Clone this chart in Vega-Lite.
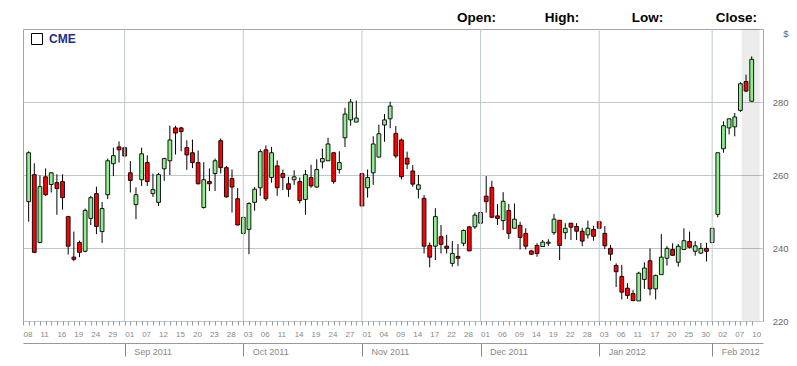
{
  "$schema": "https://vega.github.io/schema/vega-lite/v6.json",
  "width": 740,
  "height": 292,
  "autosize": {"type": "none"},
  "padding": {"left": 23, "top": 29, "right": 34, "bottom": 45},
  "background": "white",
  "title": {
    "text": "Open:\u00a0\u00a0\u00a0\u00a0\u00a0\u00a0\u00a0\u00a0\u00a0\u00a0\u00a0\u00a0\u00a0High:\u00a0\u00a0\u00a0\u00a0\u00a0\u00a0\u00a0\u00a0\u00a0\u00a0\u00a0\u00a0\u00a0\u00a0Low:\u00a0\u00a0\u00a0\u00a0\u00a0\u00a0\u00a0\u00a0\u00a0\u00a0\u00a0\u00a0\u00a0\u00a0Close:",
    "anchor": "end",
    "frame": "group",
    "orient": "top",
    "offset": 6.5,
    "baseline": "alphabetic",
    "dx": -6,
    "dy": 14,
    "font": "Liberation Sans",
    "fontSize": 13.5,
    "fontWeight": "bold",
    "color": "#000000"
  },
  "config": {
    "view": {"stroke": "#a6a6a6", "strokeWidth": 1}
  },
  "data": {
    "values": [
      {"date": "2011-08-09", "open": 252.7, "high": 266.5, "low": 247.2, "close": 266.1},
      {"date": "2011-08-10", "open": 260.1, "high": 263.2, "low": 238.6, "close": 238.8},
      {"date": "2011-08-11", "open": 241.5, "high": 259.9, "low": 241.3, "close": 256.8},
      {"date": "2011-08-12", "open": 259.5, "high": 261.8, "low": 254.3, "close": 254.6},
      {"date": "2011-08-15", "open": 257.4, "high": 260.8, "low": 255.2, "close": 260.6},
      {"date": "2011-08-16", "open": 257.9, "high": 260.2, "low": 249.1, "close": 256.3},
      {"date": "2011-08-17", "open": 258.2, "high": 260.2, "low": 250.5, "close": 253.8},
      {"date": "2011-08-18", "open": 248.6, "high": 248.8, "low": 238.2, "close": 240.5},
      {"date": "2011-08-19", "open": 237.5, "high": 244.5, "low": 236.4, "close": 236.9},
      {"date": "2011-08-22", "open": 241.5, "high": 242.0, "low": 237.5, "close": 238.8},
      {"date": "2011-08-23", "open": 239.1, "high": 250.8, "low": 238.8, "close": 250.3},
      {"date": "2011-08-24", "open": 248.1, "high": 254.3, "low": 246.3, "close": 253.8},
      {"date": "2011-08-25", "open": 254.9, "high": 256.8, "low": 243.8, "close": 245.9},
      {"date": "2011-08-26", "open": 244.5, "high": 252.6, "low": 241.4, "close": 250.8},
      {"date": "2011-08-29", "open": 254.6, "high": 264.5, "low": 253.4, "close": 263.9},
      {"date": "2011-08-30", "open": 263.1, "high": 267.5, "low": 259.7, "close": 265.3},
      {"date": "2011-08-31", "open": 267.7, "high": 269.2, "low": 263.4, "close": 266.9},
      {"date": "2011-09-01", "open": 267.5, "high": 267.6, "low": 265.0, "close": 265.2},
      {"date": "2011-09-02", "open": 260.6, "high": 263.8, "low": 255.2, "close": 258.5},
      {"date": "2011-09-06", "open": 251.9, "high": 256.6, "low": 247.9, "close": 254.6},
      {"date": "2011-09-07", "open": 258.7, "high": 267.5, "low": 257.0, "close": 265.8},
      {"date": "2011-09-08", "open": 263.4, "high": 265.4, "low": 257.0, "close": 258.2},
      {"date": "2011-09-09", "open": 254.9, "high": 260.4, "low": 254.0, "close": 256.0},
      {"date": "2011-09-12", "open": 252.5, "high": 260.6, "low": 251.5, "close": 260.1},
      {"date": "2011-09-13", "open": 261.7, "high": 264.7, "low": 258.4, "close": 264.5},
      {"date": "2011-09-14", "open": 263.9, "high": 273.5, "low": 260.0, "close": 269.6},
      {"date": "2011-09-15", "open": 272.9, "high": 273.5, "low": 265.6, "close": 271.5},
      {"date": "2011-09-16", "open": 272.9, "high": 273.2, "low": 266.5, "close": 271.9},
      {"date": "2011-09-19", "open": 267.5, "high": 269.5, "low": 261.4, "close": 265.5},
      {"date": "2011-09-20", "open": 266.1, "high": 269.7, "low": 261.9, "close": 263.4},
      {"date": "2011-09-21", "open": 263.4, "high": 266.7, "low": 257.4, "close": 257.6},
      {"date": "2011-09-22", "open": 251.1, "high": 263.5, "low": 250.8, "close": 258.7},
      {"date": "2011-09-23", "open": 258.2, "high": 261.8, "low": 255.6, "close": 257.6},
      {"date": "2011-09-26", "open": 260.4, "high": 264.5, "low": 255.6, "close": 263.9},
      {"date": "2011-09-27", "open": 269.4, "high": 270.0, "low": 260.4, "close": 262.0},
      {"date": "2011-09-28", "open": 262.0, "high": 262.5, "low": 253.8, "close": 254.0},
      {"date": "2011-09-29", "open": 259.0, "high": 261.5, "low": 249.7, "close": 256.7},
      {"date": "2011-09-30", "open": 253.5, "high": 256.4, "low": 246.2, "close": 246.3},
      {"date": "2011-10-03", "open": 244.0, "high": 248.5, "low": 243.9, "close": 248.4},
      {"date": "2011-10-04", "open": 245.1, "high": 252.5, "low": 238.3, "close": 252.2},
      {"date": "2011-10-05", "open": 252.5, "high": 256.7, "low": 250.2, "close": 256.1},
      {"date": "2011-10-06", "open": 256.5, "high": 267.0, "low": 254.3, "close": 266.4},
      {"date": "2011-10-07", "open": 266.9, "high": 268.1, "low": 252.9, "close": 253.5},
      {"date": "2011-10-10", "open": 259.3, "high": 267.7, "low": 257.9, "close": 266.1},
      {"date": "2011-10-11", "open": 262.5, "high": 264.0, "low": 254.3, "close": 256.5},
      {"date": "2011-10-12", "open": 260.4, "high": 261.5, "low": 255.9, "close": 259.3},
      {"date": "2011-10-13", "open": 257.6, "high": 259.5, "low": 254.0, "close": 256.1},
      {"date": "2011-10-14", "open": 258.7, "high": 261.3, "low": 257.3, "close": 259.5},
      {"date": "2011-10-17", "open": 258.2, "high": 259.3, "low": 252.2, "close": 253.0},
      {"date": "2011-10-18", "open": 253.3, "high": 261.4, "low": 249.1, "close": 260.1},
      {"date": "2011-10-19", "open": 259.3, "high": 262.8, "low": 256.5, "close": 257.0},
      {"date": "2011-10-20", "open": 256.7, "high": 264.3, "low": 256.5, "close": 261.5},
      {"date": "2011-10-21", "open": 263.6, "high": 267.2, "low": 261.8, "close": 264.5},
      {"date": "2011-10-24", "open": 263.9, "high": 270.2, "low": 263.8, "close": 268.5},
      {"date": "2011-10-25", "open": 266.1, "high": 266.2, "low": 257.6, "close": 258.2},
      {"date": "2011-10-26", "open": 261.5, "high": 266.5, "low": 260.4, "close": 263.4},
      {"date": "2011-10-27", "open": 270.2, "high": 278.4, "low": 267.7, "close": 276.7},
      {"date": "2011-10-28", "open": 275.1, "high": 280.8, "low": 273.5, "close": 280.0},
      {"date": "2011-10-31", "open": 274.5, "high": 280.4, "low": 274.5, "close": 275.6},
      {"date": "2011-11-01", "open": 260.4, "high": 260.4, "low": 251.5, "close": 251.5},
      {"date": "2011-11-02", "open": 256.5, "high": 261.5, "low": 253.8, "close": 259.3},
      {"date": "2011-11-03", "open": 260.6, "high": 270.6, "low": 257.3, "close": 268.5},
      {"date": "2011-11-04", "open": 264.9, "high": 273.8, "low": 264.9, "close": 271.3},
      {"date": "2011-11-07", "open": 273.7, "high": 276.7, "low": 269.1, "close": 275.1},
      {"date": "2011-11-08", "open": 275.4, "high": 280.1, "low": 272.8, "close": 278.9},
      {"date": "2011-11-09", "open": 271.4, "high": 273.4, "low": 264.6, "close": 265.2},
      {"date": "2011-11-10", "open": 269.6, "high": 270.0, "low": 258.8, "close": 259.5},
      {"date": "2011-11-11", "open": 264.6, "high": 266.4, "low": 261.6, "close": 263.0},
      {"date": "2011-11-14", "open": 261.1, "high": 262.7, "low": 256.8, "close": 257.5},
      {"date": "2011-11-15", "open": 256.1, "high": 260.0, "low": 253.6, "close": 257.3},
      {"date": "2011-11-16", "open": 253.6, "high": 254.5, "low": 238.5, "close": 240.5},
      {"date": "2011-11-17", "open": 240.7, "high": 241.5, "low": 234.7, "close": 237.5},
      {"date": "2011-11-18", "open": 240.5, "high": 250.9, "low": 236.7, "close": 248.6},
      {"date": "2011-11-21", "open": 243.1, "high": 246.3, "low": 238.5, "close": 241.0},
      {"date": "2011-11-22", "open": 240.5, "high": 243.6, "low": 238.5, "close": 239.9},
      {"date": "2011-11-23", "open": 235.8, "high": 241.9, "low": 234.9, "close": 238.5},
      {"date": "2011-11-25", "open": 237.7, "high": 241.1, "low": 235.1, "close": 237.2},
      {"date": "2011-11-28", "open": 241.3, "high": 245.1, "low": 240.5, "close": 244.8},
      {"date": "2011-11-29", "open": 245.8, "high": 246.0, "low": 239.2, "close": 239.2},
      {"date": "2011-11-30", "open": 245.8, "high": 249.7, "low": 245.2, "close": 249.0},
      {"date": "2011-12-01", "open": 246.8, "high": 250.0, "low": 246.8, "close": 249.7},
      {"date": "2011-12-02", "open": 254.2, "high": 259.7, "low": 249.7, "close": 252.7},
      {"date": "2011-12-05", "open": 256.6, "high": 258.4, "low": 248.2, "close": 248.4},
      {"date": "2011-12-06", "open": 248.8, "high": 252.0, "low": 246.3, "close": 248.1},
      {"date": "2011-12-07", "open": 247.5, "high": 255.3, "low": 244.9, "close": 252.8},
      {"date": "2011-12-08", "open": 250.3, "high": 252.1, "low": 242.5, "close": 244.0},
      {"date": "2011-12-09", "open": 245.4, "high": 252.2, "low": 245.4, "close": 247.9},
      {"date": "2011-12-12", "open": 246.2, "high": 247.2, "low": 239.6, "close": 242.9},
      {"date": "2011-12-13", "open": 244.0, "high": 245.4, "low": 239.6, "close": 240.5},
      {"date": "2011-12-14", "open": 239.2, "high": 239.5, "low": 238.1, "close": 238.3},
      {"date": "2011-12-15", "open": 240.7, "high": 241.3, "low": 237.6, "close": 238.5},
      {"date": "2011-12-16", "open": 240.4, "high": 242.2, "low": 240.4, "close": 241.6},
      {"date": "2011-12-19", "open": 241.3, "high": 242.4, "low": 240.5, "close": 241.6},
      {"date": "2011-12-20", "open": 244.2, "high": 249.3, "low": 243.6, "close": 247.9},
      {"date": "2011-12-21", "open": 247.6, "high": 247.6, "low": 236.7, "close": 240.7},
      {"date": "2011-12-22", "open": 244.2, "high": 246.8, "low": 242.4, "close": 245.4},
      {"date": "2011-12-23", "open": 246.8, "high": 246.8, "low": 242.2, "close": 245.7},
      {"date": "2011-12-27", "open": 245.9, "high": 246.8, "low": 242.2, "close": 244.6},
      {"date": "2011-12-28", "open": 244.6, "high": 245.5, "low": 240.5, "close": 241.9},
      {"date": "2011-12-29", "open": 243.6, "high": 247.5, "low": 242.6, "close": 245.4},
      {"date": "2011-12-30", "open": 245.1, "high": 246.1, "low": 242.0, "close": 243.2},
      {"date": "2012-01-03", "open": 247.2, "high": 247.2, "low": 245.4, "close": 245.4},
      {"date": "2012-01-04", "open": 244.0, "high": 246.0, "low": 239.7, "close": 240.6},
      {"date": "2012-01-05", "open": 239.9, "high": 240.8, "low": 236.5, "close": 238.3},
      {"date": "2012-01-06", "open": 235.2, "high": 235.8, "low": 229.3, "close": 233.5},
      {"date": "2012-01-09", "open": 232.2, "high": 235.4, "low": 225.9, "close": 227.9},
      {"date": "2012-01-10", "open": 229.0, "high": 230.4, "low": 226.1, "close": 227.0},
      {"date": "2012-01-11", "open": 227.5, "high": 228.5, "low": 225.4, "close": 225.6},
      {"date": "2012-01-12", "open": 225.5, "high": 233.5, "low": 225.5, "close": 233.1},
      {"date": "2012-01-13", "open": 231.4, "high": 236.1, "low": 228.8, "close": 234.5},
      {"date": "2012-01-17", "open": 236.5, "high": 239.9, "low": 227.0, "close": 228.8},
      {"date": "2012-01-18", "open": 228.8, "high": 232.7, "low": 225.9, "close": 232.5},
      {"date": "2012-01-19", "open": 232.7, "high": 243.8, "low": 232.7, "close": 237.5},
      {"date": "2012-01-20", "open": 237.2, "high": 240.5, "low": 235.2, "close": 239.9},
      {"date": "2012-01-23", "open": 239.6, "high": 241.3, "low": 237.8, "close": 238.0},
      {"date": "2012-01-24", "open": 236.1, "high": 241.1, "low": 234.9, "close": 240.5},
      {"date": "2012-01-25", "open": 239.6, "high": 245.4, "low": 239.6, "close": 242.0},
      {"date": "2012-01-26", "open": 241.8, "high": 244.5, "low": 239.9, "close": 240.2},
      {"date": "2012-01-27", "open": 239.1, "high": 241.9, "low": 237.9, "close": 240.6},
      {"date": "2012-01-30", "open": 238.6, "high": 241.4, "low": 238.4, "close": 239.9},
      {"date": "2012-01-31", "open": 239.9, "high": 241.4, "low": 236.3, "close": 239.1},
      {"date": "2012-02-01", "open": 241.5, "high": 245.4, "low": 241.5, "close": 245.4},
      {"date": "2012-02-02", "open": 249.2, "high": 266.1, "low": 248.4, "close": 266.1},
      {"date": "2012-02-03", "open": 267.2, "high": 274.7, "low": 266.1, "close": 273.5},
      {"date": "2012-02-06", "open": 272.9, "high": 275.4, "low": 271.1, "close": 275.4},
      {"date": "2012-02-07", "open": 273.2, "high": 277.0, "low": 270.6, "close": 275.9},
      {"date": "2012-02-08", "open": 277.7, "high": 285.4, "low": 277.3, "close": 285.0},
      {"date": "2012-02-09", "open": 285.6, "high": 287.5, "low": 282.7, "close": 283.0},
      {"date": "2012-02-10", "open": 280.2, "high": 292.5, "low": 280.2, "close": 291.7}
    ]
  },
  "layer": [
    {
      "data": {"values": [{}]},
      "mark": {"type": "rect", "x2": "width", "y": 0, "y2": "height", "xOffset": -1, "color": "#000000", "opacity": 0.075},
      "encoding": {
        "x": {"datum": "2012-02-10", "type": "ordinal", "axis": null}
      }
    },
    {
      "mark": {"type": "rule", "strokeWidth": 1},
      "encoding": {
        "x": {
          "field": "date",
          "type": "ordinal",
          "scale": {
            "type": "point",
            "padding": 1.43,
            "align": 0,
            "domain": ["2011-08-08","2011-08-09","2011-08-10","2011-08-11","2011-08-12","2011-08-15","2011-08-16","2011-08-17","2011-08-18","2011-08-19","2011-08-22","2011-08-23","2011-08-24","2011-08-25","2011-08-26","2011-08-29","2011-08-30","2011-08-31","2011-09-01","2011-09-02","2011-09-06","2011-09-07","2011-09-08","2011-09-09","2011-09-12","2011-09-13","2011-09-14","2011-09-15","2011-09-16","2011-09-19","2011-09-20","2011-09-21","2011-09-22","2011-09-23","2011-09-26","2011-09-27","2011-09-28","2011-09-29","2011-09-30","2011-10-03","2011-10-04","2011-10-05","2011-10-06","2011-10-07","2011-10-10","2011-10-11","2011-10-12","2011-10-13","2011-10-14","2011-10-17","2011-10-18","2011-10-19","2011-10-20","2011-10-21","2011-10-24","2011-10-25","2011-10-26","2011-10-27","2011-10-28","2011-10-31","2011-11-01","2011-11-02","2011-11-03","2011-11-04","2011-11-07","2011-11-08","2011-11-09","2011-11-10","2011-11-11","2011-11-14","2011-11-15","2011-11-16","2011-11-17","2011-11-18","2011-11-21","2011-11-22","2011-11-23","2011-11-25","2011-11-28","2011-11-29","2011-11-30","2011-12-01","2011-12-02","2011-12-05","2011-12-06","2011-12-07","2011-12-08","2011-12-09","2011-12-12","2011-12-13","2011-12-14","2011-12-15","2011-12-16","2011-12-19","2011-12-20","2011-12-21","2011-12-22","2011-12-23","2011-12-27","2011-12-28","2011-12-29","2011-12-30","2012-01-03","2012-01-04","2012-01-05","2012-01-06","2012-01-09","2012-01-10","2012-01-11","2012-01-12","2012-01-13","2012-01-17","2012-01-18","2012-01-19","2012-01-20","2012-01-23","2012-01-24","2012-01-25","2012-01-26","2012-01-27","2012-01-30","2012-01-31","2012-02-01","2012-02-02","2012-02-03","2012-02-06","2012-02-07","2012-02-08","2012-02-09","2012-02-10"]
          },
          "axis": {
            "orient": "bottom",
            "domain": false,
            "ticks": true,
            "tickSize": 4,
            "tickColor": "#999999",
            "grid": false,
            "labelExpr": "indexof(['2011-08-08','2011-08-11','2011-08-16','2011-08-19','2011-08-24','2011-08-29','2011-09-01','2011-09-07','2011-09-12','2011-09-15','2011-09-20','2011-09-23','2011-09-28','2011-10-03','2011-10-06','2011-10-11','2011-10-14','2011-10-19','2011-10-24','2011-10-27','2011-11-01','2011-11-04','2011-11-09','2011-11-14','2011-11-17','2011-11-22','2011-11-28','2011-12-01','2011-12-06','2011-12-09','2011-12-14','2011-12-19','2011-12-22','2011-12-28','2012-01-03','2012-01-06','2012-01-11','2012-01-17','2012-01-20','2012-01-25','2012-01-30','2012-02-02','2012-02-07','2012-02-10'], datum.value) >= 0 ? substring(datum.value, 8, 10) : ''",
            "labelAlign": "left",
            "labelBaseline": "top",
            "labelPadding": 5,
            "labelAngle": 0,
            "labelOverlap": false,
            "labelFont": "Liberation Sans",
            "labelFontSize": 8,
            "labelColor": "#888888",
            "title": null
          }
        },
        "y": {
          "field": "low",
          "type": "quantitative",
          "scale": {"domain": [220, 300], "nice": false, "zero": false},
          "axis": {
            "orient": "right",
            "values": [220, 240, 260, 280],
            "grid": true,
            "gridColor": "#bcc8cc",
            "domain": false,
            "ticks": false,
            "labelAlign": "right",
            "labelBaseline": "middle",
            "labelPadding": 25,
            "labelFont": "Liberation Sans",
            "labelFontSize": 9.5,
            "labelColor": "#666666",
            "title": "$",
            "titleAngle": 0,
            "titleX": 25,
            "titleY": 4,
            "titleAlign": "right",
            "titleBaseline": "middle",
            "titleFont": "Liberation Sans",
            "titleFontSize": 9.5,
            "titleFontWeight": "normal",
            "titleColor": "#666666"
          }
        },
        "y2": {"field": "high"},
        "stroke": {
          "datum": "CME",
          "type": "nominal",
          "scale": {"range": ["#000000"]},
          "legend": {
            "title": null,
            "orient": "none",
            "legendX": 8,
            "legendY": 4,
            "padding": 0,
            "symbolType": "square",
            "symbolSize": 121,
            "symbolStrokeWidth": 1,
            "labelOffset": 6,
            "labelFont": "Liberation Sans",
            "labelFontSize": 12,
            "labelFontWeight": "bold",
            "labelColor": "#1f2d8a",
            "encode": {
              "symbols": {"update": {"stroke": {"value": "#808080"}, "fill": {"value": "#ffffff"}, "fillOpacity": {"value": 1}, "strokeWidth": {"value": 1}}}
            }
          }
        }
      }
    },
    {
      "mark": {"type": "bar", "size": 3.8, "stroke": "#000000", "strokeWidth": 0.9},
      "encoding": {
        "x": {"field": "date", "type": "ordinal", "axis": null},
        "y": {
          "field": "open",
          "type": "quantitative",
          "axis": {
            "orient": "right",
            "values": [220, 240, 260, 280],
            "grid": true,
            "gridColor": "#bcc8cc",
            "domain": false,
            "ticks": false,
            "labelAlign": "right",
            "labelBaseline": "middle",
            "labelPadding": 25,
            "labelFont": "Liberation Sans",
            "labelFontSize": 9.5,
            "labelColor": "#666666",
            "title": "$",
            "titleAngle": 0,
            "titleX": 25,
            "titleY": 4,
            "titleAlign": "right",
            "titleBaseline": "middle",
            "titleFont": "Liberation Sans",
            "titleFontSize": 9.5,
            "titleFontWeight": "normal",
            "titleColor": "#666666"
          }
        },
        "y2": {"field": "close"},
        "fill": {
          "condition": {"test": "datum.close >= datum.open", "value": "#90ee90"},
          "value": "#ff0000"
        }
      }
    },
    {
      "data": {"values": [{"date": "2011-09-01"}, {"date": "2011-10-03"}, {"date": "2011-11-01"}, {"date": "2011-12-01"}, {"date": "2012-01-03"}, {"date": "2012-02-01"}]},
      "mark": {"type": "rule", "color": "#bcc8cc", "strokeWidth": 1},
      "encoding": {
        "x": {
          "field": "date",
          "type": "ordinal",
          "axis": {
            "orient": "bottom",
            "offset": 22,
            "values": ["2011-09-01", "2011-10-03", "2011-11-01", "2011-12-01", "2012-01-03", "2012-02-01"],
            "domain": true,
            "domainColor": "#999999",
            "ticks": true,
            "tickSize": 13,
            "tickColor": "#888888",
            "grid": false,
            "labelExpr": "utcFormat(toDate(datum.value), '%b %Y')",
            "labelAlign": "left",
            "labelBaseline": "top",
            "labelPadding": -9,
            "labelOffset": 9,
            "labelAngle": 0,
            "labelOverlap": false,
            "labelFont": "Liberation Sans",
            "labelFontSize": 9,
            "labelColor": "#888888",
            "title": null
          }
        }
      }
    }
  ],
  "resolve": {"axis": {"x": "independent"}}
}
